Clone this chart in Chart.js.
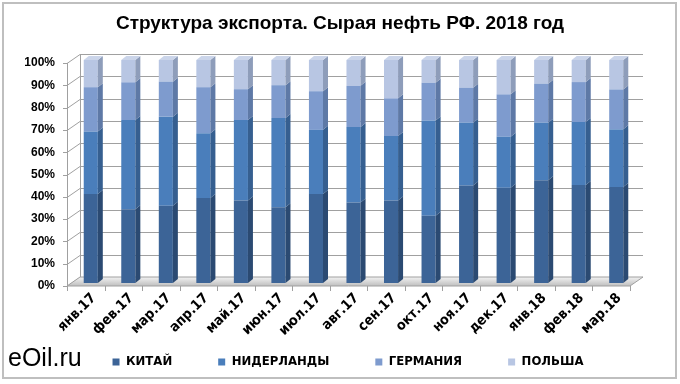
<!DOCTYPE html>
<html><head><meta charset="utf-8">
<script src="https://cdn.jsdelivr.net/npm/chart.js@4.4.0/dist/chart.umd.min.js"></script>
<style>html,body{margin:0;padding:0;background:#fff}#wrap{width:680px;height:384px;position:relative}</style>
</head><body><div id="wrap"><canvas id="c" width="680" height="384"></canvas></div>
<script>
const categories = ['янв.17','фев.17','мар.17','апр.17','май.17','июн.17','июл.17','авг.17','сен.17','окт.17','ноя.17','дек.17','янв.18','фев.18','мар.18'];
const seriesNames = ['КИТАЙ','НИДЕРЛАНДЫ','ГЕРМАНИЯ','ПОЛЬША'];
const china       = [39.9, 33.1, 34.6, 38.1, 37.0, 34.0, 39.9, 36.1, 37.0, 30.2, 43.7, 42.7, 46.1, 43.9, 43.0];
const netherlands = [28.0, 40.0, 40.0, 29.1, 36.1, 40.0, 28.8, 33.8, 28.9, 42.7, 28.2, 22.9, 25.8, 28.3, 25.9];
const germany     = [19.9, 16.9, 15.7, 20.6, 13.8, 14.7, 17.3, 18.5, 16.9, 16.9, 15.7, 19.0, 17.5, 17.9, 17.9];
const poland      = [12.2, 10.0,  9.7, 12.2, 13.1, 11.3, 14.0, 11.6, 17.2, 10.2, 12.4, 15.4, 10.6,  9.9, 13.2];
const yTicks = [0,10,20,30,40,50,60,70,80,90,100];
const titleText = 'Структура экспорта. Сырая нефть РФ. 2018 год';
const sourceText = 'eOil.ru';

const frontColors = ['#3C6497','#4A7EBB','#7E9BCE','#B8C6E3'];
const sideColors  = ['#2B4A72','#365F90','#5E79A6','#8E9DBA'];
const topColor = '#CBD5EA';
const FRONT = {dx:-5, dy:3}, BACK = {dx:8, dy:-6}, SIDE = {dx:5, dy:-4};
const NARROW = '"Liberation Sans Narrow", "DejaVu Sans Condensed", sans-serif';
const SANS = '"Liberation Sans", Arial, sans-serif';

const depthPlugin = {
  id: 'depth',
  afterLayout(chart){
    if (chart.legend) { chart.legend.left += 8; chart.legend.right += 8; }
    const xs = chart.scales.x;
    if (xs) xs._computeLabelArea = function(){ return undefined; };
  },
  beforeDraw(chart){
    const ctx = chart.ctx;
    ctx.save();
    ctx.fillStyle = '#fff'; ctx.fillRect(0,0,chart.width,chart.height);
    ctx.strokeStyle = '#BFBFBF'; ctx.lineWidth = 2;
    ctx.strokeRect(3, 3, 673, 375);
    ctx.restore();
  },
  beforeDatasetsDraw(chart){
    const ctx = chart.ctx, a = chart.chartArea, y = chart.scales.y;
    ctx.save();
    ctx.lineWidth = 1;
    ctx.strokeStyle = '#A0A0A0';
    yTicks.forEach(v => {
      const py = Math.round(y.getPixelForValue(v)) + 0.5;
      ctx.beginPath();
      ctx.moveTo(a.left + BACK.dx, py + BACK.dy);
      ctx.lineTo(a.right + BACK.dx, py + BACK.dy);
      ctx.moveTo(a.left + FRONT.dx, py + FRONT.dy);
      ctx.lineTo(a.left + BACK.dx, py + BACK.dy);
      ctx.moveTo(a.left + FRONT.dx - 4, py + FRONT.dy);
      ctx.lineTo(a.left + FRONT.dx, py + FRONT.dy);
      ctx.stroke();
    });
    const yt = y.getPixelForValue(100), y0 = y.getPixelForValue(0);
    ctx.beginPath();
    ctx.moveTo(Math.round(a.left + FRONT.dx) + 0.5, yt + FRONT.dy);
    ctx.lineTo(Math.round(a.left + FRONT.dx) + 0.5, y0 + FRONT.dy);
    ctx.moveTo(Math.round(a.left + BACK.dx) + 0.5, yt + BACK.dy);
    ctx.lineTo(Math.round(a.left + BACK.dx) + 0.5, y0 + BACK.dy);
    ctx.stroke();
    const g = ctx.createLinearGradient(0, y0 + BACK.dy, 0, y0 + FRONT.dy);
    g.addColorStop(0, '#F2F2F2'); g.addColorStop(1, '#BFBFBF');
    ctx.beginPath();
    ctx.moveTo(a.left + FRONT.dx, y0 + FRONT.dy);
    ctx.lineTo(a.right + FRONT.dx, y0 + FRONT.dy);
    ctx.lineTo(a.right + BACK.dx, y0 + BACK.dy);
    ctx.lineTo(a.left + BACK.dx, y0 + BACK.dy);
    ctx.closePath();
    ctx.fillStyle = g; ctx.fill(); ctx.stroke();
    const n = categories.length, cw = (a.right - a.left) / n;
    ctx.beginPath();
    for (let i = 0; i <= n; i++) {
      const px = Math.round(a.left + FRONT.dx + i * cw) + 0.5;
      ctx.moveTo(px, y0 + FRONT.dy);
      ctx.lineTo(px, y0 + FRONT.dy + 5);
    }
    ctx.stroke();
    ctx.restore();
  },
  afterDatasetsDraw(chart){
    const ctx = chart.ctx;
    ctx.save();
    const last = chart.data.datasets.length - 1;
    chart.data.datasets.forEach((ds, di) => {
      const meta = chart.getDatasetMeta(di);
      meta.data.forEach(bar => {
        const p = bar.getProps(['x','y','base','width'], true);
        const l = p.x - p.width/2, r = p.x + p.width/2;
        ctx.fillStyle = sideColors[di];
        ctx.beginPath();
        ctx.moveTo(r, p.y); ctx.lineTo(r + SIDE.dx, p.y + SIDE.dy);
        ctx.lineTo(r + SIDE.dx, p.base + SIDE.dy); ctx.lineTo(r, p.base);
        ctx.closePath(); ctx.fill();
        if (di === last) {
          ctx.fillStyle = topColor;
          ctx.beginPath();
          ctx.moveTo(l, p.y); ctx.lineTo(l + SIDE.dx, p.y + SIDE.dy);
          ctx.lineTo(r + SIDE.dx, p.y + SIDE.dy); ctx.lineTo(r, p.y);
          ctx.closePath(); ctx.fill();
        }
      });
    });
    ctx.restore();
  },
  afterDraw(chart){
    const ctx = chart.ctx;
    ctx.save();
    ctx.fillStyle = '#000';
    ctx.font = '25px ' + SANS;
    ctx.textBaseline = 'alphabetic';
    ctx.fillText(sourceText, 8, 366);
    ctx.restore();
  }
};

const seriesData = [china, netherlands, germany, poland];
new Chart(document.getElementById('c'), {
  type: 'bar',
  data: {
    labels: categories,
    datasets: seriesNames.map((name, i) => ({
      label: name,
      data: seriesData[i],
      backgroundColor: frontColors[i],
      borderWidth: 0,
      barPercentage: 0.75,
      categoryPercentage: 0.5,
      yAxisID: 'y'
    }))
  },
  options: {
    responsive: false,
    animation: false,
    layout: { padding: { left: 0, right: 0, top: 0, bottom: 5.5 } },
    plugins: {
      tooltip: { enabled: false },
      title: {
        display: true, text: titleText, color: '#000',
        font: { family: SANS, size: 19, weight: 'bold' },
        padding: { top: 12.6, bottom: 24.6 }
      },
      legend: {
        position: 'bottom',
        labels: {
          color: '#000', boxWidth: 7, boxHeight: 7, padding: 46,
          font: { family: NARROW, size: 13, weight: 'bold' }
        }
      }
    },
    scales: {
      x: {
        stacked: true,
        grid: { display: false, drawTicks: false }, border: { display: false },
        ticks: {
          autoSkip: false, minRotation: 45, maxRotation: 45, padding: 7, labelOffset: 3,
          color: '#000',
          font: { family: NARROW, size: 14, weight: 'bold' }
        },
        afterFit(s){ s.height = 26.5; }
      },
      y: {
        stacked: true, min: 0, max: 100, position: 'left',
        grid: { display: false, drawTicks: false }, border: { display: false },
        afterBuildTicks(s){ s.ticks = yTicks.map(v => ({ value: v })); },
        ticks: {
          padding: 17, labelOffset: 3, color: '#000',
          callback: v => v + '%',
          font: { family: SANS, size: 12, weight: 'bold' }
        },
        afterFit(s){ s.width = 72; }
      },
      yR: {
        position: 'right', min: 0, max: 100,
        grid: { display: false, drawTicks: false }, border: { display: false },
        ticks: { display: false },
        afterFit(s){ s.width = 45; }
      }
    }
  },
  plugins: [depthPlugin]
});
</script>
</body></html>
